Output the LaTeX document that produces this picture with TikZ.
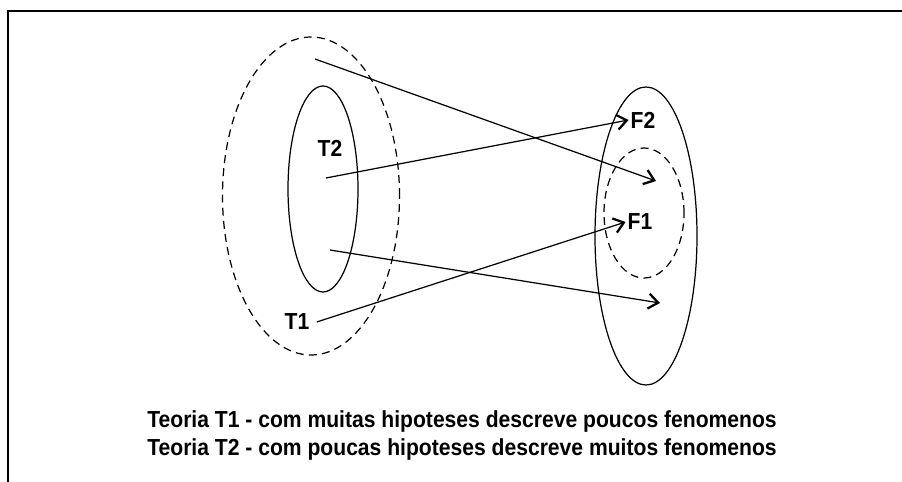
\documentclass[tikz,border=0pt]{standalone}
\usepackage{fontspec}
\setmainfont{Liberation Sans}
\newfontfamily\estreita[FakeStretch=0.91]{Liberation Sans}
\usetikzlibrary{arrows.meta,shapes.geometric}
\tikzset{
  conj/.style={draw,ellipse,line width=0.7pt,inner sep=0pt},
  dconj/.style={conj,dash pattern=on 4.5pt off 3pt},
  rotulo/.style={font=\estreita\bfseries\fontsize{13.2}{15}\selectfont,inner sep=1pt},
  seta/.style={line width=0.7pt,-{Straight Barb[length=5.5pt,width=8.5pt,line width=1.3pt]}}
}
\begin{document}
\begin{tikzpicture}[x=0.02cm,y=-0.02cm]
  \useasboundingbox (0,0) rectangle (902,482);
  \draw[line width=0.8pt] (902,11) -- (8,11) -- (8,482);
  \node[dconj,minimum width=177*0.02cm,minimum height=318*0.02cm] (t1set) at (311,196) {};
  \node[conj,minimum width=70*0.02cm,minimum height=206*0.02cm] (t2set) at (323,189) {};
  \node[conj,minimum width=102*0.02cm,minimum height=298*0.02cm] (fset) at (646,236) {};
  \node[dconj,minimum width=80*0.02cm,minimum height=130*0.02cm] (f1set) at (644,213) {};
  \node[rotulo] (t2) at (330,148) {T2};
  \node[rotulo] (t1) at (297,322) {T1};
  \node[rotulo] (f2) at (643,120) {F2};
  \node[rotulo] (f1) at (640,222) {F1};
  \coordinate (a1) at (315,59);
  \coordinate (b1) at (656,181);
  \coordinate (a2) at (326,178);
  \coordinate (a3) at (330,250);
  \coordinate (b3) at (660,303);
  \draw[seta] (a1) -- (b1);
  \draw[seta] (a2) -- (f2.west);
  \draw[seta] (a3) -- (b3);
  \draw[seta] ([xshift=3pt]t1.east) -- (f1.west);
  \node[rotulo] (leg1) at (462,422) {Teoria T1 - com muitas hipoteses descreve poucos fenomenos};
  \node[rotulo] (leg2) at (462,450) {Teoria T2 - com poucas hipoteses descreve muitos fenomenos};
\end{tikzpicture}
\end{document}
